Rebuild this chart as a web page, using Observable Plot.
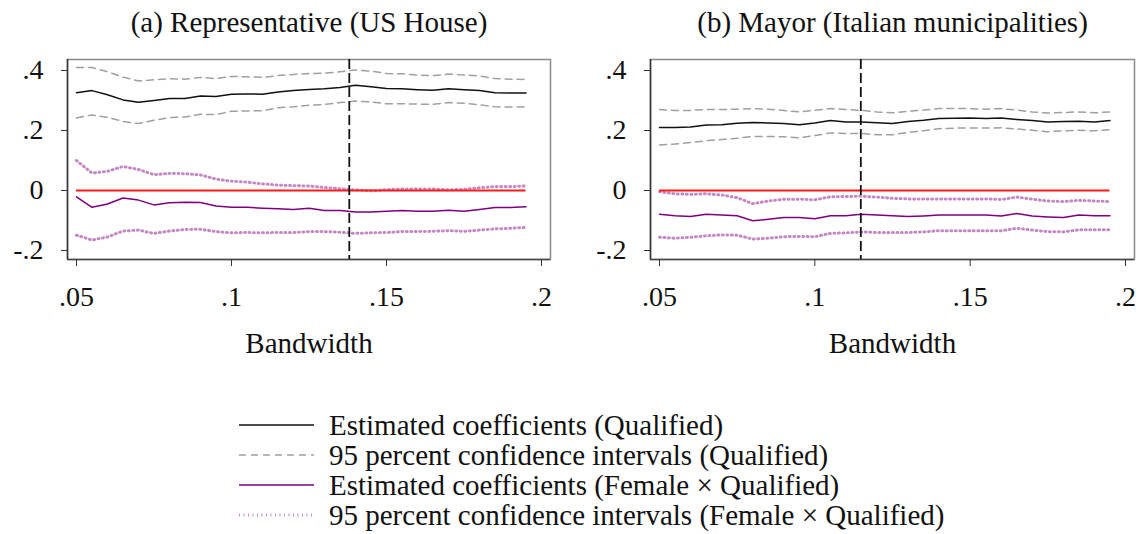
<!DOCTYPE html>
<html><head><meta charset="utf-8">
<script src="https://cdn.jsdelivr.net/npm/d3@7"></script>
<script src="https://cdn.jsdelivr.net/npm/@observablehq/plot@0.6"></script>
<style>
body{margin:0;background:#fff;}
#wrap{position:relative;width:1142px;height:534px;font-family:"Liberation Serif",serif;background:#fff;overflow:hidden;}
#wrap > svg, #wrap > figure{position:absolute;top:0;margin:0;}
</style></head><body><div id="wrap"></div>
<script>
// ---- data ----
const bandwidth = [0.05,0.055,0.06,0.065,0.07,0.075,0.08,0.085,0.09,0.095,0.1,0.105,0.11,0.115,0.12,0.125,0.13,0.135,0.14,0.145,0.15,0.155,0.16,0.165,0.17,0.175,0.18,0.185,0.19,0.195];

const xTicks = [0.05, 0.1, 0.15, 0.2];
const yTicks = [-0.2, 0, 0.2, 0.4];
const xTickLabels = [".05", ".1", ".15", ".2"];
const yTickLabels = ["-.2", "0", ".2", ".4"];

const panelTitles = ["(a) Representative (US House)", "(b) Mayor (Italian municipalities)"];
const axisTitle = "Bandwidth";
const optimalBandwidth = [0.138, 0.1148];

// (a) US House
const houseCoef  = [0.326,0.333,0.319,0.302,0.294,0.300,0.307,0.307,0.315,0.313,0.321,0.322,0.321,0.328,0.333,0.337,0.339,0.343,0.351,0.346,0.340,0.339,0.336,0.334,0.339,0.336,0.333,0.326,0.325,0.325];
const houseHi    = [0.410,0.410,0.396,0.378,0.365,0.369,0.373,0.371,0.377,0.373,0.380,0.379,0.377,0.383,0.387,0.390,0.391,0.396,0.402,0.398,0.390,0.389,0.385,0.383,0.388,0.385,0.382,0.373,0.371,0.370];
const houseLo    = [0.242,0.252,0.244,0.230,0.223,0.234,0.243,0.245,0.254,0.253,0.264,0.265,0.266,0.276,0.279,0.284,0.287,0.293,0.298,0.295,0.289,0.289,0.288,0.287,0.293,0.291,0.286,0.279,0.278,0.278];
const houseFem   = [-0.021,-0.056,-0.045,-0.025,-0.032,-0.048,-0.041,-0.039,-0.040,-0.052,-0.056,-0.056,-0.059,-0.061,-0.063,-0.059,-0.067,-0.067,-0.072,-0.072,-0.069,-0.067,-0.069,-0.069,-0.066,-0.069,-0.063,-0.057,-0.057,-0.054];
const houseFemHi = [0.100,0.058,0.064,0.080,0.070,0.053,0.057,0.056,0.052,0.038,0.031,0.028,0.022,0.018,0.016,0.015,0.010,0.006,0.002,-0.001,0.003,0.005,0.005,0.005,0.002,0.004,0.009,0.013,0.013,0.015];
const houseFemLo = [-0.149,-0.165,-0.155,-0.135,-0.132,-0.143,-0.135,-0.130,-0.129,-0.137,-0.141,-0.140,-0.141,-0.140,-0.140,-0.137,-0.137,-0.139,-0.143,-0.141,-0.140,-0.137,-0.137,-0.136,-0.134,-0.136,-0.132,-0.128,-0.126,-0.123];

// (b) Italian mayors
const mayorCoef  = [0.210,0.210,0.212,0.218,0.219,0.224,0.227,0.225,0.223,0.219,0.225,0.233,0.228,0.228,0.226,0.223,0.230,0.234,0.240,0.241,0.242,0.240,0.242,0.237,0.233,0.228,0.230,0.231,0.228,0.233];
const mayorHi    = [0.270,0.267,0.267,0.270,0.270,0.271,0.273,0.271,0.267,0.262,0.267,0.273,0.270,0.267,0.262,0.259,0.264,0.268,0.273,0.273,0.273,0.271,0.273,0.268,0.262,0.258,0.260,0.262,0.259,0.262];
const mayorLo    = [0.152,0.155,0.160,0.166,0.170,0.174,0.180,0.180,0.179,0.176,0.183,0.192,0.190,0.190,0.186,0.186,0.194,0.199,0.206,0.208,0.208,0.208,0.209,0.205,0.201,0.196,0.199,0.201,0.199,0.203];
const mayorFem   = [-0.079,-0.084,-0.087,-0.079,-0.082,-0.084,-0.101,-0.096,-0.090,-0.090,-0.094,-0.084,-0.084,-0.079,-0.082,-0.084,-0.087,-0.085,-0.082,-0.082,-0.082,-0.082,-0.085,-0.077,-0.085,-0.088,-0.090,-0.082,-0.084,-0.084];
const mayorFemHi = [-0.004,-0.011,-0.013,-0.011,-0.015,-0.024,-0.044,-0.035,-0.029,-0.029,-0.031,-0.021,-0.020,-0.019,-0.022,-0.026,-0.028,-0.028,-0.028,-0.028,-0.028,-0.028,-0.030,-0.022,-0.029,-0.035,-0.037,-0.033,-0.035,-0.037];
const mayorFemLo = [-0.156,-0.159,-0.156,-0.151,-0.148,-0.149,-0.162,-0.159,-0.154,-0.153,-0.154,-0.143,-0.141,-0.138,-0.140,-0.140,-0.140,-0.138,-0.134,-0.134,-0.134,-0.134,-0.134,-0.126,-0.132,-0.137,-0.138,-0.131,-0.131,-0.131];

const legendLabels = [
  "Estimated coefficients (Qualified)",
  "95 percent confidence intervals (Qualified)",
  "Estimated coefficients (Female \u00d7 Qualified)",
  "95 percent confidence intervals (Female \u00d7 Qualified)"
];

// ---- styles ----
const FONT = '"Liberation Serif", "DejaVu Serif", serif';
const styles = {
  coef:   {stroke: "#111111", strokeWidth: 1.5},
  ci:     {stroke: "#a0a0a0", strokeWidth: 1.5, strokeDasharray: "7,5"},
  fem:    {stroke: "#800080", strokeWidth: 1.5},
  femCi:  {stroke: "#b060b0", strokeWidth: 3, strokeDasharray: "0.9,3.6", strokeOpacity: 0.75}
};

const xDomain = [0.0471, 0.2029];
const yDomain = [-0.23, 0.4367];
const fmtX = d => xTickLabels[xTicks.indexOf(d)];
const fmtY = d => yTickLabels[yTicks.indexOf(d)];

function panel(title, coef, hi, lo, fem, femHi, femLo, opt, mL, mR) {
  const rows = bandwidth.map((b, i) => ({b, coef: coef[i], hi: hi[i], lo: lo[i], fem: fem[i], femHi: femHi[i], femLo: femLo[i]}));
  const H = 370;
  return Plot.plot({
    width: 571, height: H,
    marginLeft: mL, marginRight: mR, marginTop: 59, marginBottom: H - 259,
    style: {fontFamily: FONT, fontSize: "28px", background: "transparent", color: "#111", overflow: "visible"},
    x: {domain: xDomain},
    y: {domain: yDomain},
    marks: [
      Plot.frame({stroke: "#8a8a8a", strokeWidth: 1.5}),
      Plot.ruleX([xDomain[0]], {stroke: "#333", strokeWidth: 1.5}),
      Plot.ruleY([yDomain[0]], {stroke: "#444", strokeWidth: 1.5}),
      Plot.axisX({ticks: xTicks, tickFormat: fmtX, tickSize: 7, tickPadding: 20, label: null, fontSize: 28, stroke: "#333"}),
      Plot.axisY({ticks: yTicks, tickFormat: fmtY, tickSize: 6, tickPadding: 18, label: null, fontSize: 28, stroke: "#333"}),
      Plot.line(rows, {x: "b", y: "hi", ...styles.ci}),
      Plot.line(rows, {x: "b", y: "lo", ...styles.ci}),
      Plot.line(rows, {x: "b", y: "coef", ...styles.coef}),
      Plot.line(rows, {x: "b", y: "femHi", ...styles.femCi}),
      Plot.line(rows, {x: "b", y: "femLo", ...styles.femCi}),
      Plot.line(rows, {x: "b", y: "fem", ...styles.fem}),
      Plot.ruleY([0], {x1: bandwidth[0], x2: bandwidth[bandwidth.length - 1], stroke: "#ff1a1a", strokeWidth: 2.2}),
      Plot.ruleX([opt], {stroke: "#111", strokeWidth: 1.8, strokeDasharray: "10,4"}),
      Plot.text([title], {frameAnchor: "top", lineAnchor: "middle", dy: -37, fontSize: 29, fill: "#111"}),
      Plot.text([axisTitle], {frameAnchor: "bottom", lineAnchor: "middle", dy: 84, fontSize: 29, fill: "#111"})
    ]
  });
}

const wrap = document.getElementById("wrap");
const left = panel(panelTitles[0], houseCoef, houseHi, houseLo, houseFem, houseFemHi, houseFemLo, optimalBandwidth[0], 67, 21);
left.style.left = "0px";
wrap.appendChild(left);
const right = panel(panelTitles[1], mayorCoef, mayorHi, mayorLo, mayorFem, mayorFemHi, mayorFemLo, optimalBandwidth[1], 79, 8);
right.style.left = "571px";
wrap.appendChild(right);

// ---- legend ----
const legendStyles = [styles.coef, styles.ci, styles.fem, styles.femCi];
const lg = d3.create("svg").attr("width", 1142).attr("height", 134)
  .style("position", "absolute").style("left", "0px").style("top", "400px");
const rowsG = lg.selectAll("g").data(legendLabels).join("g")
  .attr("transform", (d, i) => `translate(0,${25 + i * 30})`);
rowsG.append("line").attr("x1", 239).attr("x2", 314).attr("y1", 0).attr("y2", 0)
  .each(function(d, i) {
    const s = legendStyles[i];
    d3.select(this).attr("stroke", s.stroke).attr("stroke-width", s.strokeWidth)
      .attr("stroke-dasharray", s.strokeDasharray || null)
      .attr("stroke-opacity", s.strokeOpacity || null);
  });
rowsG.append("text").attr("x", 329).attr("y", 0).attr("dy", "0.34em")
  .attr("font-family", FONT).attr("font-size", 29).attr("fill", "#111").text(d => d);
wrap.appendChild(lg.node());
</script>
</body></html>
